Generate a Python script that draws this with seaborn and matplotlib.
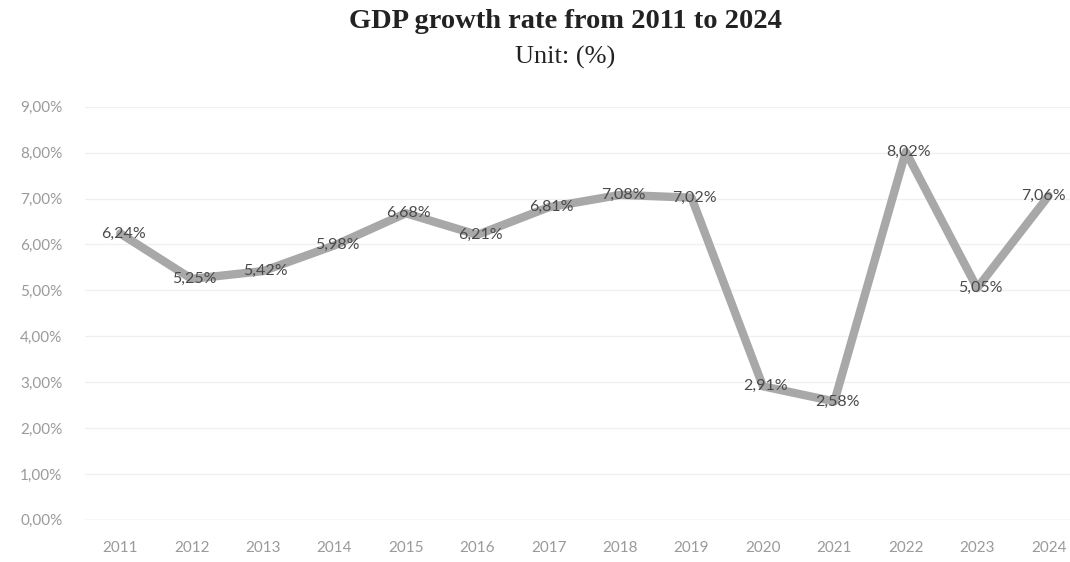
import pandas as pd
import matplotlib.pyplot as plt
import seaborn as sns

years = ["2011", "2012", "2013", "2014", "2015", "2016", "2017",
         "2018", "2019", "2020", "2021", "2022", "2023", "2024"]
growth = [6.24, 5.25, 5.42, 5.98, 6.68, 6.21, 6.81,
          7.08, 7.02, 2.91, 2.58, 8.02, 5.05, 7.06]

df = pd.DataFrame({"year": years, "growth": growth})
df["pos"] = range(len(df))

sns.set_style("whitegrid")
plt.rcParams["font.family"] = ["Lato", "DejaVu Sans"]

fig = plt.figure(figsize=(10.7, 5.62), dpi=100)
ax = fig.add_axes([0.079, 0.075, 0.921, 0.735])

sns.lineplot(data=df, x="pos", y="growth", ax=ax, color="#a8a8a8",
             linewidth=6, solid_capstyle="round", solid_joinstyle="round")

# data labels, centred on the points like Excel does (last one kept inside)
n = len(growth)
for i, v in enumerate(growth):
    lbl = f"{v:.2f}%".replace(".", ",")
    if i == n - 1:
        ax.text(i + 0.24, v, lbl, ha="right", va="center", fontsize=11.5, color="#4a4a4a")
    else:
        ax.text(i + 0.04, v, lbl, ha="center", va="center", fontsize=11.5, color="#4a4a4a")

ax.set_xlim(-0.5, 13.3)
ax.set_ylim(0, 9)
ax.set_xticks(df["pos"])
ax.set_xticklabels(years)
ax.set_yticks(range(10))
ax.set_yticklabels([f"{t},00%" for t in range(10)])
ax.tick_params(axis="both", labelsize=11, colors="#9a9a9a", length=0)
ax.tick_params(axis="y", pad=16)
ax.tick_params(axis="x", pad=15)
ax.grid(axis="y", color="#f0f0f0", linewidth=1)
ax.grid(axis="x", visible=False)
for s in ax.spines.values():
    s.set_visible(False)
ax.axhline(0, color="#e6e6e6", linewidth=1)
ax.set_xlabel("")
ax.set_ylabel("")

fig.text(0.528, 0.962, "GDP growth rate from 2011 to 2024", ha="center", va="center",
         fontsize=20.5, fontweight="bold", family="Liberation Serif", color="#222222")
fig.text(0.528, 0.898, "Unit: (%)", ha="center", va="center",
         fontsize=19, family="Liberation Serif", color="#222222")

plt.savefig("out.png", dpi=100)
